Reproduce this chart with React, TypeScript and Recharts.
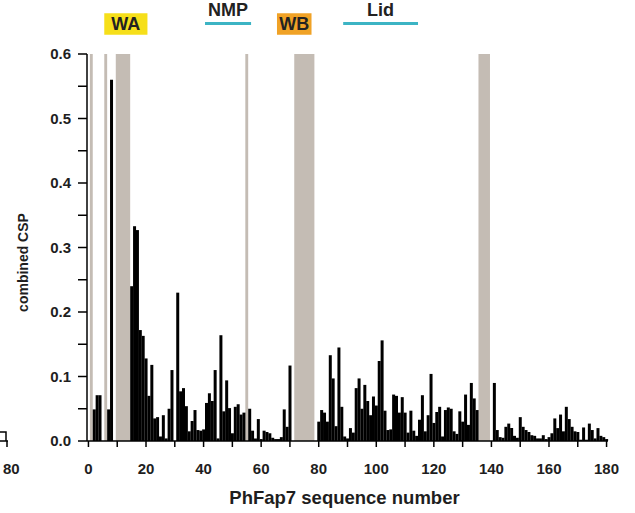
import { BarChart, Bar, XAxis, YAxis, ReferenceArea } from "recharts"

const FONT = "'Liberation Sans', Arial, Helvetica, sans-serif"

// residue numbers 0..180 (categories)
const residues = Array.from({ length: 181 }, (_, i) => i)

// combined CSP per residue (0 where nothing / unassigned)
const csp = [
    0, 0, 0.049, 0.071, 0.071, 0, 0, 0.049, 0.56, 0,
    0, 0, 0, 0, 0, 0.24, 0.333, 0.327, 0.172, 0.163,
    0.128, 0.07, 0.118, 0.035, 0.037, 0.007, 0.04, 0.004, 0.05, 0.11,
    0, 0.23, 0.077, 0.082, 0.054, 0.015, 0.031, 0.048, 0.017, 0.016,
    0.018, 0.059, 0.074, 0.062, 0.11, 0.004, 0.164, 0.046, 0.094, 0.051,
    0.012, 0.053, 0.057, 0.041, 0.044, 0, 0.05, 0.016, 0.004, 0.034,
    0.003, 0.016, 0.014, 0.012, 0.005, 0.003, 0.003, 0.006, 0.049, 0.022,
    0.117, 0, 0, 0, 0, 0, 0, 0, 0, 0,
    0.03, 0.048, 0.044, 0.03, 0.133, 0.097, 0.023, 0.145, 0.053, 0.007,
    0.004, 0.02, 0.013, 0.082, 0.097, 0.05, 0.087, 0.062, 0.04, 0.069,
    0.055, 0.124, 0.156, 0.047, 0.017, 0.018, 0.072, 0.07, 0.044, 0.068,
    0.044, 0.013, 0.047, 0.016, 0.008, 0.033, 0.071, 0.015, 0.04, 0.104,
    0.028, 0.045, 0.053, 0.007, 0.048, 0.052, 0.05, 0.015, 0.011, 0.046,
    0.03, 0.072, 0.025, 0.09, 0.066, 0.048, 0, 0, 0, 0,
    0, 0.09, 0.017, 0.006, 0.005, 0.022, 0.027, 0.02, 0.008, 0.005,
    0.037, 0.022, 0.017, 0.014, 0.009, 0.008, 0.004, 0.004, 0.009, 0.003,
    0.006, 0.012, 0.035, 0.02, 0.041, 0.015, 0.053, 0.034, 0.022, 0.015,
    0.014, 0.002, 0.021, 0.002, 0.027, 0.017, 0.004, 0.02, 0.008, 0.006,
    0.003,
]

const yTicks = [0, 0.05, 0.1, 0.15, 0.2, 0.25, 0.3, 0.35, 0.4, 0.45, 0.5, 0.55, 0.6]

// residues without data (grey columns)
const unassigned = [[1, 1], [6, 6], [10, 14], [55, 55], [72, 78], [136, 139]]

// motifs above the plot
const motifBoxes = [
    { name: "WA", from: 6, to: 20, color: "#f6df1a" },
    { name: "WB", from: 66, to: 77, color: "#f0a226" },
]
const domainLines = [
    { name: "NMP", from: 41, to: 56 },
    { name: "Lid", from: 89, to: 114 },
]

const data = residues.map((res, i) => ({ res, csp: csp[i] }))

const tickStyle = { fill: "#1e1e1e", fontSize: 15, fontWeight: 700, fontFamily: FONT }

const xTitle = (p: any) => {
    const vb = p.viewBox
    return (
        <text x={vb.x + vb.width / 2 - 3} y={vb.y + 63} textAnchor="middle" fill="#1e1e1e"
            fontSize={18.5} fontWeight={700} fontFamily={FONT}>
            PhFap7 sequence number
        </text>
    )
}

const yTitle = (p: any) => {
    const vb = p.viewBox
    const x = vb.x + 28
    const y = vb.y + vb.height / 2 + 15
    return (
        <text x={x} y={y} transform={`rotate(-90, ${x}, ${y})`} textAnchor="middle" fill="#1e1e1e"
            fontSize={14} fontWeight={700} fontFamily={FONT}>
            combined CSP
        </text>
    )
}

export default function App() {
    return (
        <div style={{ position: "relative", width: 635, height: 513 }}>
            <style>{"body{margin:0}"}</style>
            <BarChart
                width={635}
                height={513}
                data={data}
                barCategoryGap={0}
                margin={{ top: 54, right: 27, bottom: 0, left: 0 }}
            >
                {unassigned.map(([a, b]) => (
                    <ReferenceArea key={`g${a}`} x1={a} x2={b} y1={0} y2={0.6}
                        fill="#c4bcb4" fillOpacity={1} stroke="none" />
                ))}
                <XAxis
                    dataKey="res"
                    interval={9}
                    height={72}
                    tickSize={6}
                    tickMargin={16}
                    stroke="#000"
                    strokeWidth={1.5}
                    tick={tickStyle}
                    tickFormatter={(v) => (v % 20 === 0 ? `${v}` : "")}
                    label={xTitle}
                />
                <YAxis
                    type="number"
                    domain={[0, 0.6]}
                    ticks={yTicks}
                    interval={0}
                    width={87}
                    tickSize={9}
                    tickMargin={7}
                    stroke="#000"
                    strokeWidth={1.5}
                    tick={tickStyle}
                    tickFormatter={(v) => (Math.round(v * 100) % 10 === 0 ? v.toFixed(1) : "")}
                    label={yTitle}
                />
                <Bar dataKey="csp" fill="#000" isAnimationActive={false} />
                {motifBoxes.map((m) => (
                    <ReferenceArea key={m.name} x1={m.from} x2={m.to} y1={0.63} y2={0.663}
                        fill={m.color} fillOpacity={1} stroke="none" ifOverflow="visible"
                        label={{ value: m.name, position: "center", fill: "#222", fontSize: 18, fontWeight: 700, fontFamily: FONT }} />
                ))}
                {domainLines.map((d) => (
                    <ReferenceArea key={d.name} x1={d.from} x2={d.to} y1={0.645} y2={0.6495}
                        fill="#3cb4c4" fillOpacity={1} stroke="none" ifOverflow="visible"
                        label={{ value: d.name, position: "top", offset: 6, fill: "#222", fontSize: 18, fontWeight: 700, fontFamily: FONT }} />
                ))}
            </BarChart>
            {/* edge of the neighbouring panel, cut off in the original figure */}
            <svg width={30} height={513} style={{ position: "absolute", left: 0, top: 0 }}>
                <path d="M0 432 H6 V441 M0 441 H8 M7 441 V447" stroke="#000" strokeWidth={1.5} fill="none" />
                <text x={3} y={473.5} fill="#1e1e1e" fontSize={15} fontWeight={700} fontFamily={FONT}>80</text>
            </svg>
        </div>
    )
}
